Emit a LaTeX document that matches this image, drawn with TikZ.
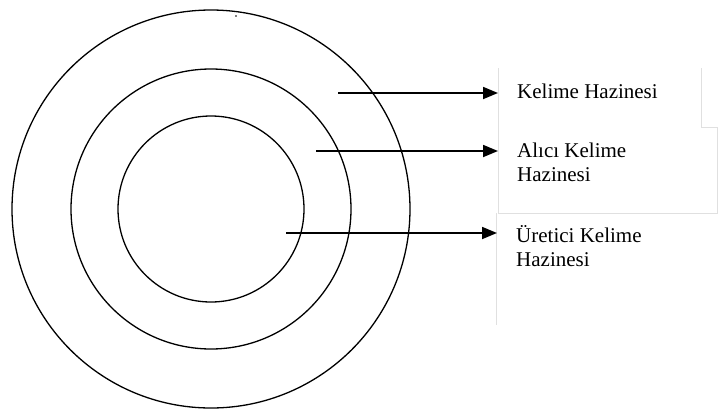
\documentclass[tikz,border=0pt]{standalone}
\usepackage{fontspec}
\setmainfont{Liberation Serif}
\usetikzlibrary{arrows.meta}
\tikzset{
    halka/.style={line width=1.3pt},
    kutu/.style={draw=black!12, line width=0.9pt},
    etiket/.style={inner xsep=19pt, inner ysep=0pt, align=left,
        font=\fontsize{21}{24}\selectfont},
    ok/.style={line width=1.8pt, -{Triangle[length=15pt,width=12pt]}}
}
\begin{document}
\begin{tikzpicture}[x=1pt,y=-1pt]
        \useasboundingbox (0,0) rectangle (718,410);
        % Halkalar
        \coordinate (merkez) at (211,209);
        \foreach \r in {93,140,199} {
            \draw[halka] (merkez) circle (\r pt);
        }
        \fill (236,16) circle (0.8pt);

        % Kutular
        \draw[kutu] (498,68) -- (498,213) -- (717,213) -- (717,127) -- (701,127) -- (701,68);
        \draw[kutu] (701,127) -- (718,127);
        \draw[kutu] (496,213) -- (496,325);

        % Etiketler (base = son satir)
        \node[etiket, anchor=base west] (kelime) at (498,98) {Kelime Hazinesi};
        \node[etiket, anchor=base west] (alici) at (498,181) {Alıcı Kelime\\Hazinesi};
        \node[etiket, anchor=base west] (uretici) at (497,266) {Üretici Kelime\\Hazinesi};

        % Oklar
        \foreach \isim/\x/\y in {kelime/338/93, alici/316/151, uretici/286/233} {
            \coordinate (bas-\isim) at (\x,\y);
            \draw[ok] (bas-\isim) -- (bas-\isim -| \isim.west);
        }
    \end{tikzpicture}
\end{document}
